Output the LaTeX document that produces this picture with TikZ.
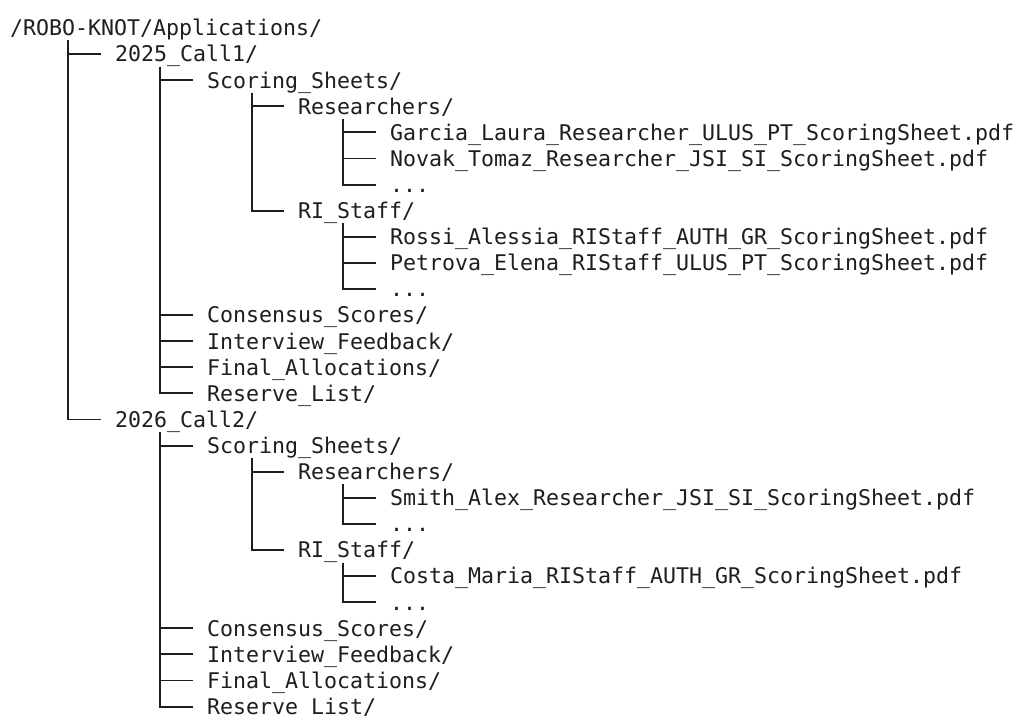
\documentclass[tikz,border=0pt]{standalone}
\usepackage{fontspec}
\newfontfamily\treefont{DejaVu Sans Mono}
\definecolor{ink}{HTML}{1E1E1E}
% elbow connector from a folder's trunk to one of its entries
\newcommand\twig[2]{\draw[branch] ([shift={(59,12.5)}]#1.west) |- (#2.west);}
\begin{document}
\begin{tikzpicture}[x=0.75pt,y=-0.75pt,
  entry/.style={anchor=west, inner sep=0pt, outer xsep=10.5pt, outer ysep=0pt,
    text height=11.8pt, text depth=0pt, text=ink,
    font=\treefont\fontsize{16.2pt}{19pt}\selectfont},
  branch/.style={draw=ink, line width=1.4pt}]
\fill[white] (0,0) rectangle (1023,715);
\useasboundingbox (0,0) rectangle (1023,715);

% folder entries, one row per line of the listing
\node[entry] (root) at (-4,28)    {/ROBO-KNOT/Applications/};
\node[entry] (a)    at (101,54.1)  {2025\_Call1/};
\node[entry] (as)   at (193,80.2)  {Scoring\_Sheets/};
\node[entry] (asr)  at (284,106.3) {Researchers/};
\node[entry] (asr1) at (376,132.4) {Garcia\_Laura\_Researcher\_ULUS\_PT\_ScoringSheet.pdf};
\node[entry] (asr2) at (376,158.5) {Novak\_Tomaz\_Researcher\_JSI\_SI\_ScoringSheet.pdf};
\node[entry] (asr3) at (376,184.6) {...};
\node[entry] (ast)  at (284,210.7) {RI\_Staff/};
\node[entry] (ast1) at (376,236.8) {Rossi\_Alessia\_RIStaff\_AUTH\_GR\_ScoringSheet.pdf};
\node[entry] (ast2) at (376,262.9) {Petrova\_Elena\_RIStaff\_ULUS\_PT\_ScoringSheet.pdf};
\node[entry] (ast3) at (376,289.0) {...};
\node[entry] (ac)   at (193,315.1) {Consensus\_Scores/};
\node[entry] (ai)   at (193,341.2) {Interview\_Feedback/};
\node[entry] (af)   at (193,367.3) {Final\_Allocations/};
\node[entry] (ar)   at (193,393.4) {Reserve\_List/};
\node[entry] (b)    at (101,419.5) {2026\_Call2/};
\node[entry] (bs)   at (193,445.6) {Scoring\_Sheets/};
\node[entry] (bsr)  at (284,471.7) {Researchers/};
\node[entry] (bsr1) at (376,497.8) {Smith\_Alex\_Researcher\_JSI\_SI\_ScoringSheet.pdf};
\node[entry] (bsr2) at (376,523.9) {...};
\node[entry] (bst)  at (284,550.0) {RI\_Staff/};
\node[entry] (bst1) at (376,576.1) {Costa\_Maria\_RIStaff\_AUTH\_GR\_ScoringSheet.pdf};
\node[entry] (bst2) at (376,602.2) {...};
\node[entry] (bc)   at (193,628.3) {Consensus\_Scores/};
\node[entry] (bi)   at (193,654.4) {Interview\_Feedback/};
\node[entry] (bf)   at (193,680.5) {Final\_Allocations/};
\node[entry] (br)   at (193,706.6) {Reserve\_List/};

% tree connectors
\draw[branch] ([shift={(72,12)}]root.west) |- (a.west);
\draw[branch] ([shift={(72,12)}]root.west) |- (b.west);
\foreach \c in {as,ac,ai,af,ar} {\twig{a}{\c}}
\foreach \c in {asr,ast} {\twig{as}{\c}}
\foreach \c in {asr1,asr2,asr3} {\twig{asr}{\c}}
\foreach \c in {ast1,ast2,ast3} {\twig{ast}{\c}}
\foreach \c in {bs,bc,bi,bf,br} {\twig{b}{\c}}
\foreach \c in {bsr,bst} {\twig{bs}{\c}}
\foreach \c in {bsr1,bsr2} {\twig{bsr}{\c}}
\foreach \c in {bst1,bst2} {\twig{bst}{\c}}
\end{tikzpicture}
\end{document}
